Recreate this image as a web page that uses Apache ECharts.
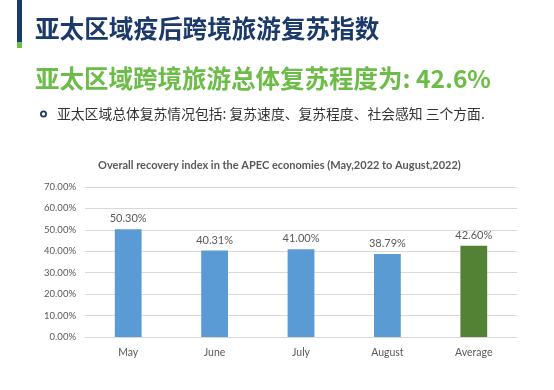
<!DOCTYPE html>
<html><head><meta charset="utf-8">
<script src="https://cdn.jsdelivr.net/npm/echarts@6/dist/echarts.min.js"></script>
<style>html,body{margin:0;padding:0;background:#fff}#c{width:554px;height:390px}</style>
</head><body><div id="c"></div>
<script>
var categories = ['May', 'June', 'July', 'August', 'Average'];
var values = [50.30, 40.31, 41.00, 38.79, 42.60];
var barColors = ['#5b9bd5', '#5b9bd5', '#5b9bd5', '#5b9bd5', '#548235'];
var yTicks = [0, 10, 20, 30, 40, 50, 60, 70];

var chart = echarts.init(document.getElementById('c'));
var cjk = '"Noto Sans CJK SC", "Noto Sans", sans-serif';
var lat = 'Lato, "Open Sans", "Liberation Sans", sans-serif';
chart.setOption({
  animation: false,
  graphic: [
    {type: 'rect', shape: {x: 17, y: 0, width: 5, height: 42}, style: {fill: '#1b3a6b'}},
    {type: 'rect', shape: {x: 17, y: 42, width: 5, height: 6}, style: {fill: '#6dbf4b'}},
    {type: 'circle', shape: {cx: 43.5, cy: 114, r: 2.6}, style: {fill: '#fff', stroke: '#1b3a6b', lineWidth: 1.8}},
    {type: 'text', x: 35, y: 29, style: {text: '亚太区域疫后跨境旅游复苏指数', font: 'bold 24.6px ' + cjk,
      fill: '#1b3a6b', textVerticalAlign: 'middle'}},
    {type: 'text', x: 35, y: 79, style: {text: '亚太区域跨境旅游总体复苏程度为: 42.6%', font: 'bold 24.5px ' + cjk,
      fill: '#6cbd47', textVerticalAlign: 'middle'}},
    {type: 'text', x: 57, y: 114, style: {text: '亚太区域总体复苏情况包括: 复苏速度、复苏程度、社会感知 三个方面.', font: '13.8px ' + cjk,
      fill: '#333333', textVerticalAlign: 'middle'}},
    {type: 'text', x: 98, y: 165, style: {text: 'Overall recovery index in the APEC economies (May,2022 to August,2022)', font: 'bold 11px ' + lat,
      fill: '#595959', textVerticalAlign: 'middle'}}
  ],
  grid: {left: 85, right: 37, top: 187, bottom: 53, containLabel: false},
  xAxis: {
    type: 'category', data: categories,
    axisLine: {show: true, lineStyle: {color: '#d9d9d9'}},
    axisTick: {show: false},
    axisLabel: {fontFamily: lat, fontSize: 10.5, color: '#595959', margin: 10}
  },
  yAxis: {
    type: 'value', min: 0, max: 70, interval: 10,
    axisLine: {show: false}, axisTick: {show: false},
    splitLine: {lineStyle: {color: '#d9d9d9'}},
    axisLabel: {fontFamily: lat, fontSize: 9.5, color: '#595959', margin: 9,
      formatter: function (v) { return v.toFixed(2) + '%'; }}
  },
  series: [{
    type: 'bar', data: values.map(function (v, i) { return {value: v, itemStyle: {color: barColors[i]}}; }),
    barWidth: '31%',
    label: {show: true, position: 'top', distance: 5, fontFamily: lat, fontSize: 11, color: '#595959',
      formatter: function (p) { return p.value.toFixed(2) + '%'; }}
  }]
});
</script></body></html>
